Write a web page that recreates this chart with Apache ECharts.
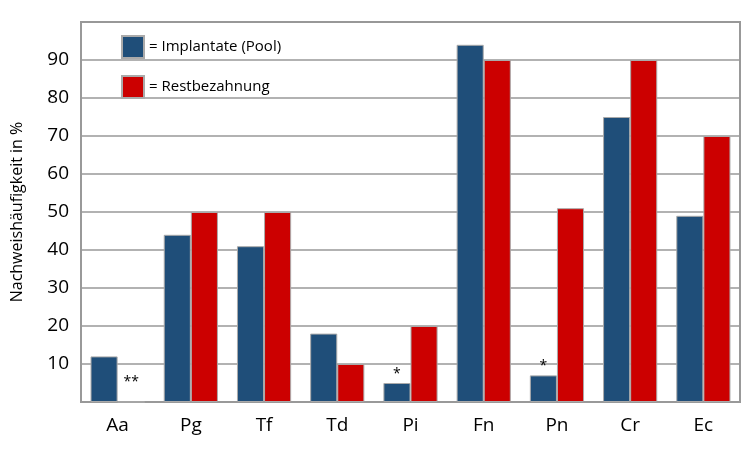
<!DOCTYPE html>
<html>
<head>
<meta charset="utf-8">
<script src="https://cdn.jsdelivr.net/npm/echarts@6/dist/echarts.min.js"></script>
<style>html,body{margin:0;padding:0;background:#fff}#c{width:750px;height:453px}</style>
</head>
<body>
<div id="c"></div>
<script>
var categories = ["Aa", "Pg", "Tf", "Td", "Pi", "Fn", "Pn", "Cr", "Ec"];
var implantate = [12, 44, 41, 18, 5, 94, 7, 75, 49];
var restbezahnung = [0, 50, 50, 10, 20, 90, 51, 90, 70];
var implantMarks = ["", "", "", "", "*", "", "*", "", ""];
var restMarks = ["**", "", "", "", "", "", "", "", ""];

var myChart = echarts.init(document.getElementById("c"));

function withMarks(values, marks) {
    return values.map(function (v, i) {
        return {
            value: v,
            label: {
                show: marks[i] !== "",
                formatter: marks[i],
                position: "top",
                distance: marks[i] === "**" ? 12 : 2,
                color: "#000",
                fontSize: 14,
                fontFamily: "Open Sans"
            }
        };
    });
}

var option = {
    backgroundColor: "#fff",
    animation: false,
    grid: { left: 81, right: 10, top: 22, bottom: 51 },
    legend: {
        orient: "vertical",
        left: 116,
        top: 30,
        icon: "rect",
        itemWidth: 22,
        itemHeight: 22,
        itemGap: 16,
        formatter: "= {name}",
        textStyle: { fontSize: 15, fontFamily: "Open Sans", color: "#000" },
        data: ["Implantate (Pool)", "Restbezahnung"]
    },
    xAxis: {
        type: "category",
        data: categories,
        axisTick: { show: false },
        axisLine: { lineStyle: { color: "#999", width: 2 } },
        axisLabel: { fontSize: 19, fontFamily: "Open Sans", color: "#000", margin: 14 }
    },
    yAxis: {
        type: "value",
        min: 0,
        max: 100,
        interval: 10,
        name: "Nachweishäufigkeit in %",
        nameLocation: "middle",
        nameGap: 56,
        nameTextStyle: { fontSize: 16, fontFamily: "Open Sans", color: "#000" },
        axisLine: { show: true, lineStyle: { color: "#999", width: 2 } },
        axisTick: { show: false },
        axisLabel: {
            fontSize: 19, fontFamily: "Open Sans", color: "#000", margin: 12,
            formatter: function (v) { return (v === 0 || v === 100) ? "" : v; }
        },
        splitLine: { lineStyle: { color: "#999", width: 1.5 } }
    },
    series: [
        {
            name: "Implantate (Pool)",
            type: "bar",
            data: withMarks(implantate, implantMarks),
            barGap: "0%",
            barCategoryGap: "26%",
            itemStyle: { color: "#1f4e79", borderColor: "#aaa", borderWidth: 1 }
        },
        {
            name: "Restbezahnung",
            type: "bar",
            data: withMarks(restbezahnung, restMarks),
            itemStyle: { color: "#cc0000", borderColor: "#aaa", borderWidth: 1 }
        }
    ],
    graphic: [{
        type: "rect",
        shape: { x: 81, y: 22, width: 659, height: 380 },
        style: { fill: "none", stroke: "#999", lineWidth: 2 },
        silent: true
    }]
};
myChart.setOption(option);
</script>
</body>
</html>
